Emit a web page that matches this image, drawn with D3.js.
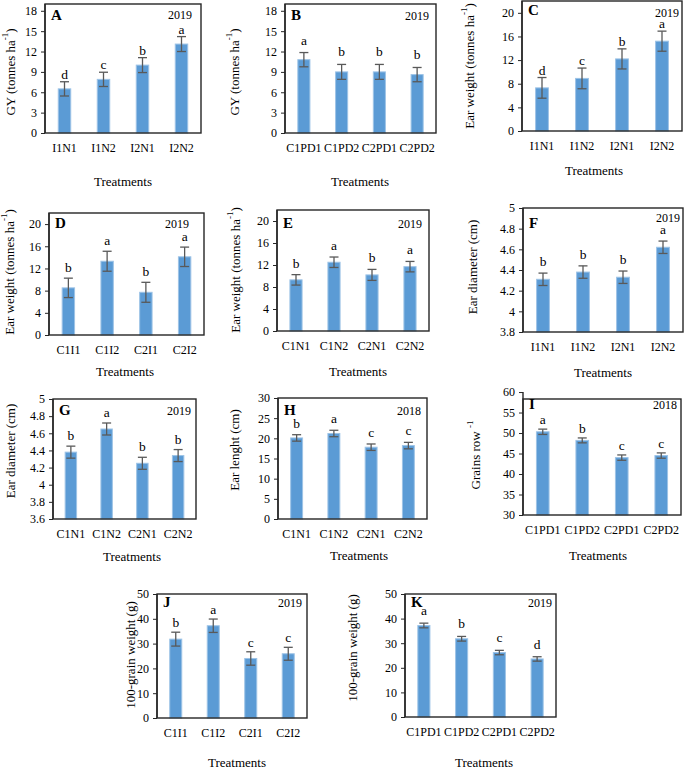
<!DOCTYPE html>
<html><head><meta charset="utf-8">
<script src="https://cdn.jsdelivr.net/npm/d3@7"></script>
<style>
body{margin:0;background:#fff}
svg{display:block}
text{font-family:"Liberation Serif","Times New Roman",serif;fill:#000}
</style></head>
<body><svg id="c" width="685" height="771"></svg>
<script>
// ---- categories ----
const catsIN  = ["I1N1","I1N2","I2N1","I2N2"];
const catsCPD = ["C1PD1","C1PD2","C2PD1","C2PD2"];
const catsCI  = ["C1I1","C1I2","C2I1","C2I2"];
const catsCN  = ["C1N1","C1N2","C2N1","C2N2"];

// ---- series values (mean, error, letter) ----
const gyIN      = [6.5, 7.9, 10.0, 13.1];
const gyINErr   = [1.05, 1.05, 1.1, 1.1];
const gyINLet   = ["d","c","b","a"];

const gyCPD     = [10.8, 9.0, 9.0, 8.6];
const gyCPDErr  = [1.05, 1.1, 1.1, 1.05];
const gyCPDLet  = ["a","b","b","b"];

const ewIN      = [7.3, 8.9, 12.2, 15.2];
const ewINErr   = [1.75, 1.75, 1.7, 1.7];
const ewINLet   = ["d","c","b","a"];

const ewCI      = [8.5, 13.3, 7.7, 14.1];
const ewCIErr   = [1.75, 1.8, 1.8, 1.75];
const ewCILet   = ["b","a","b","a"];

const ewCN      = [9.3, 12.5, 10.2, 11.7];
const ewCNErr   = [0.95, 0.95, 1.0, 0.95];
const ewCNLet   = ["b","a","b","a"];

const edIN      = [4.31, 4.38, 4.33, 4.62];
const edINErr   = [0.06, 0.06, 0.06, 0.06];
const edINLet   = ["b","b","b","a"];

const edCN      = [4.38, 4.65, 4.25, 4.34];
const edCNErr   = [0.07, 0.07, 0.07, 0.07];
const edCNLet   = ["b","a","b","b"];

const elCN      = [20.1, 21.2, 17.8, 18.2];
const elCNErr   = [0.8, 0.8, 0.8, 0.8];
const elCNLet   = ["b","a","c","c"];

const grCPD     = [50.3, 48.2, 44.0, 44.5];
const grCPDErr  = [0.65, 0.6, 0.65, 0.65];
const grCPDLet  = ["a","b","c","c"];

const gwCI      = [31.8, 37.2, 24.0, 25.9];
const gwCIErr   = [2.8, 2.7, 2.7, 2.6];
const gwCILet   = ["b","a","c","c"];

const gwCPD     = [37.2, 31.8, 26.2, 23.6];
const gwCPDErr  = [0.95, 0.95, 0.9, 0.9];
const gwCPDLet  = ["a","b","c","d"];

// ---- tick labels ----
const ticksGY  = [0,3,6,9,12,15,18];
const ticksEW  = [0,4,8,12,16,20];
const ticksEDF = [3.8,4,4.2,4.4,4.6,4.8,5];
const ticksEDG = [3.6,3.8,4,4.2,4.4,4.6,4.8,5];
const ticksEL  = [0,5,10,15,20,25,30];
const ticksGR  = [30,35,40,45,50,55,60];
const ticksGW  = [0,10,20,30,40,50];

// ---- panels (layout) ----
const panels = [
 {id:"A", year:"2019", cats:catsIN,  v:gyIN,  e:gyINErr,  l:gyINLet,  ticks:ticksGY, dom:[0,19],
  box:[45,4,201,133], ylab:["GY (tonnes ha","-1",")"], ylx:10, yly:72, tx:123, ty:186, yearX:180, yearY:19, labDy:16, gap:3},
 {id:"B", year:"2019", cats:catsCPD, v:gyCPD, e:gyCPDErr, l:gyCPDLet, ticks:ticksGY, dom:[0,19],
  box:[285,4,436,133], ylab:["GY (tonnes ha","-1",")"], ylx:234, yly:72, tx:360, ty:186, yearX:417, yearY:20, labDy:16, gap:8},
 {id:"C", year:"2019", cats:catsIN,  v:ewIN,  e:ewINErr,  l:ewINLet,  ticks:ticksEW, dom:[0,22],
  box:[522,1,682,131], ylab:["Ear weight (tonnes ha","-1",")"], ylx:469, yly:66, tx:594, ty:175, yearX:667, yearY:17, labDy:14, gap:3},
 {id:"D", year:"2019", cats:catsCI,  v:ewCI,  e:ewCIErr,  l:ewCILet,  ticks:ticksEW, dom:[0,22],
  box:[49,213,204,335], ylab:["Ear weight (tonnes ha","-1",")"], ylx:9, yly:272, tx:125, ty:376, yearX:177, yearY:228, labDy:15, gap:6},
 {id:"E", year:"2019", cats:catsCN,  v:ewCN,  e:ewCNErr,  l:ewCNLet,  ticks:ticksEW, dom:[0,22],
  box:[277,210,429,331], ylab:["Ear weight (tonnes ha","-1",")"], ylx:235, yly:270, tx:358, ty:376, yearX:410, yearY:228, labDy:18, gap:7},
 {id:"F", year:"2019", cats:catsIN,  v:edIN,  e:edINErr,  l:edINLet,  ticks:ticksEDF, dom:[3.8,5],
  box:[523,208,683,332], ylab:["Ear diameter (cm)"], ylx:472, yly:267, tx:603, ty:377, yearX:668, yearY:222, labDy:20, gap:7},
 {id:"G", year:"2019", cats:catsCN,  v:edCN,  e:edCNErr,  l:edCNLet,  ticks:ticksEDG, dom:[3.6,5],
  box:[53,399,196,519], ylab:["Ear diameter (cm)"], ylx:10, yly:451, tx:132, ty:561, yearX:179, yearY:415, labDy:16, gap:6},
 {id:"H", year:"2018", cats:catsCN,  v:elCN,  e:elCNErr,  l:elCNLet,  ticks:ticksEL, dom:[0,30],
  box:[278,398,427,519], ylab:["Ear lenght (cm)"], ylx:234, yly:450, tx:359, ty:560, yearX:409, yearY:415, labDy:17, gap:7},
 {id:"I", year:"2018", cats:catsCPD, v:grCPD, e:grCPDErr, l:grCPDLet, ticks:ticksGR, dom:[30,58.3],
  box:[523,399,681,515], ylab:["Grains row ","-1",""], ylx:475, yly:455, tx:598, ty:560, yearX:665, yearY:409, labDy:10, gap:5},
 {id:"J", year:"2019", cats:catsCI,  v:gwCI,  e:gwCIErr,  l:gwCILet,  ticks:ticksGW, dom:[0,50],
  box:[157,594,307,718], ylab:["100-grain weight (g)"], ylx:130, yly:655, tx:237, ty:767, yearX:290, yearY:607, labDy:13, gap:5},
 {id:"K", year:"2019", cats:catsCPD, v:gwCPD, e:gwCPDErr, l:gwCPDLet, ticks:ticksGW, dom:[0,50],
  box:[405,594,556,717], ylab:["100-grain weight (g)"], ylx:352, yly:648, tx:484, ty:767, yearX:540, yearY:607, labDy:13, gap:8}
];

const svg = d3.select("#c");
const fmt = d => String(+d.toFixed(2));

panels.forEach(p => {
  const [x0,y0,x1,y1] = p.box;
  const g = svg.append("g");
  const x = d3.scaleBand().domain(p.cats).range([x0,x1]).padding(0);
  const y = d3.scaleLinear().domain(p.dom).range([y1,y0]);
  const bw = x.bandwidth()*0.32;
  const rows = p.cats.map((c,i)=>({c, v:p.v[i], e:p.e[i], l:p.l[i]}));

  // bars
  g.selectAll("rect.bar").data(rows).enter().append("rect")
    .attr("x", d => x(d.c)+x.bandwidth()/2-bw/2)
    .attr("y", d => y(d.v))
    .attr("width", bw)
    .attr("height", d => y(p.dom[0]) - y(d.v))
    .attr("fill","#5B9BD5").attr("stroke","#9DC3E6").attr("stroke-width",1);

  // error bars
  const eg = g.selectAll("g.err").data(rows).enter().append("g")
    .attr("stroke","#595959").attr("stroke-width",1.3);
  const cx = d => x(d.c)+x.bandwidth()/2;
  eg.append("line").attr("x1",cx).attr("x2",cx).attr("y1",d=>y(d.v-d.e)).attr("y2",d=>y(d.v+d.e));
  eg.append("line").attr("x1",d=>cx(d)-4.5).attr("x2",d=>cx(d)+4.5).attr("y1",d=>y(d.v-d.e)).attr("y2",d=>y(d.v-d.e));
  eg.append("line").attr("x1",d=>cx(d)-4.5).attr("x2",d=>cx(d)+4.5).attr("y1",d=>y(d.v+d.e)).attr("y2",d=>y(d.v+d.e));

  // letters
  g.selectAll("text.let").data(rows).enter().append("text")
    .attr("x",cx).attr("y",d=>y(d.v+d.e)-p.gap)
    .attr("text-anchor","middle").style("font-size","13.5px").text(d=>d.l);

  // y axis
  const ya = d3.axisLeft(y).tickValues(p.ticks).tickSize(4).tickPadding(4).tickFormat(fmt);
  const yg = g.append("g").attr("transform",`translate(${x0},0)`).call(ya);
  yg.select(".domain").remove();
  yg.selectAll("line").attr("stroke","#262626");
  yg.selectAll("text").style("font-size","12px").style("font-family",'"Liberation Serif",serif');

  // x axis labels
  const xa = d3.axisBottom(x).tickSize(0).tickPadding(10);
  const xg = g.append("g").attr("transform",`translate(0,${y1})`).call(xa);
  xg.select(".domain").remove();
  xg.selectAll("text").style("font-size","12px").style("font-family",'"Liberation Serif",serif');

  // frame
  g.append("rect").attr("x",x0).attr("y",y0).attr("width",x1-x0).attr("height",y1-y0)
    .attr("fill","none").attr("stroke","#262626").attr("stroke-width",1.4);
  const topT = Math.min(y0, y(p.ticks[p.ticks.length-1]));
  g.append("line").attr("x1",x0).attr("x2",x0).attr("y1",topT).attr("y2",y1)
    .attr("stroke","#262626").attr("stroke-width",1.4);

  // panel letter & year
  g.append("text").attr("x",x0+6).attr("y",y0+p.labDy).style("font-size","15px").style("font-weight","bold").text(p.id);
  g.append("text").attr("x",p.yearX).attr("y",p.yearY).attr("text-anchor","middle").style("font-size","12px").text(p.year);

  // Treatments
  g.append("text").attr("x",p.tx).attr("y",p.ty).attr("text-anchor","middle").style("font-size","13px").text("Treatments");

  // y label
  const yl = g.append("text").attr("transform",`translate(${p.ylx},${p.yly}) rotate(-90)`)
    .attr("text-anchor","middle").attr("dominant-baseline","central").style("font-size","13px");
  yl.append("tspan").text(p.ylab[0]);
  if (p.ylab.length>1) {
    yl.append("tspan").attr("dy","-5").style("font-size","9px").text(p.ylab[1]);
    yl.append("tspan").attr("dy","5").text(p.ylab[2]);
  }
});
</script></body></html>
